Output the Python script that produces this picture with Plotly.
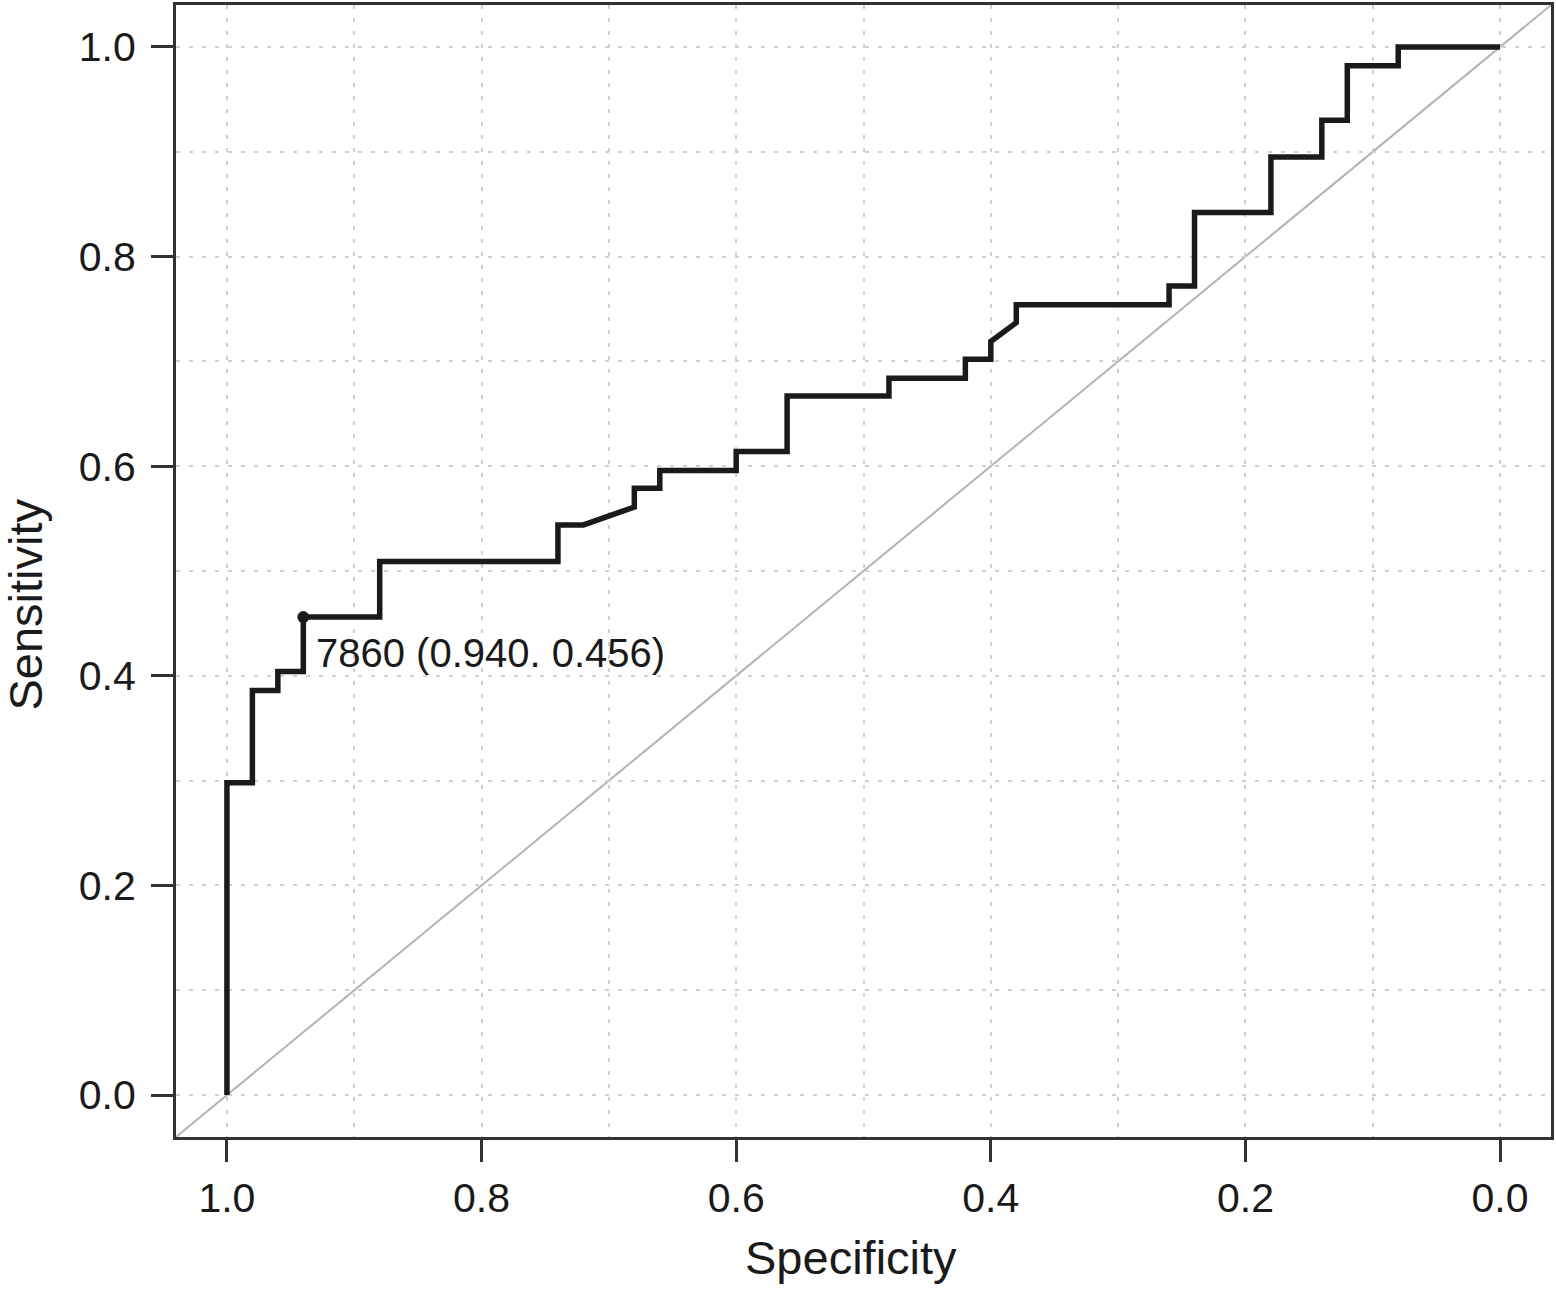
import plotly.graph_objects as go

# ROC curve vertices (specificity, sensitivity)
specificity = [1.00, 1.00, 0.98, 0.98, 0.96, 0.96, 0.94, 0.94, 0.88, 0.88,
               0.74, 0.74, 0.72, 0.68, 0.68, 0.66, 0.66, 0.60, 0.60, 0.56,
               0.56, 0.48, 0.48, 0.42, 0.42, 0.40, 0.40, 0.38, 0.38, 0.26,
               0.26, 0.24, 0.24, 0.18, 0.18, 0.14, 0.14, 0.12, 0.12, 0.08,
               0.08, 0.00]
sensitivity = [0.000, 0.298, 0.298, 0.386, 0.386, 0.404, 0.404, 0.456, 0.456, 0.509,
               0.509, 0.544, 0.544, 0.561, 0.579, 0.579, 0.596, 0.596, 0.614, 0.614,
               0.667, 0.667, 0.684, 0.684, 0.702, 0.702, 0.719, 0.737, 0.754, 0.754,
               0.772, 0.772, 0.842, 0.842, 0.895, 0.895, 0.930, 0.930, 0.982, 0.982,
               1.000, 1.000]

# best threshold
thr_value = 7860
thr_spec = 0.940
thr_sens = 0.456

tick_vals = [0.0, 0.2, 0.4, 0.6, 0.8, 1.0]
tick_text = ["0.0", "0.2", "0.4", "0.6", "0.8", "1.0"]

FONT = "Liberation Sans, Arial, Helvetica, sans-serif"
TXT = "#1a1a1a"

fig = go.Figure()

fig.add_trace(go.Scatter(
    x=specificity, y=sensitivity, mode="lines",
    line=dict(color="#1a1a1a", width=5.5),
    showlegend=False, hoverinfo="skip"))

fig.add_trace(go.Scatter(
    x=[thr_spec], y=[thr_sens], mode="markers",
    marker=dict(color="#1a1a1a", size=12),
    showlegend=False, hoverinfo="skip"))

# chance diagonal across the plot region
fig.add_shape(type="line", xref="paper", yref="paper", x0=0, y0=0, x1=1, y1=1,
              line=dict(color="#b3b3b3", width=2), layer="below")

fig.add_annotation(
    x=thr_spec, y=thr_sens, xref="x", yref="y",
    text=f"{thr_value} ({thr_spec:.3f}. {thr_sens:.3f})",
    showarrow=False, xanchor="left", yanchor="top", xshift=11, yshift=-12,
    font=dict(family=FONT, size=40, color=TXT))

fig.add_annotation(
    x=0.491, y=-0.1066, xref="paper", yref="paper", text="Specificity",
    showarrow=False, xanchor="center", yanchor="middle",
    font=dict(family=FONT, size=47, color=TXT))
fig.add_annotation(
    x=-0.1097, y=0.4705, xref="paper", yref="paper", text="Sensitivity",
    showarrow=False, xanchor="center", yanchor="middle", textangle=-90,
    font=dict(family=FONT, size=47, color=TXT))

axis_common = dict(
    tickvals=tick_vals, ticktext=tick_text,
    ticks="outside", ticklen=22, tickwidth=3, tickcolor="#333333",
    showline=True, linecolor="#333333", linewidth=3, mirror=True,
    showgrid=True, gridcolor="#d0d0d0", gridwidth=2, griddash="4px,9px",
    minor=dict(dtick=0.1, tick0=0, showgrid=True, gridcolor="#d0d0d0",
               gridwidth=2, griddash="4px,9px", ticks=""),
    zeroline=False,
    tickfont=dict(family=FONT, size=41, color=TXT),
)

fig.update_xaxes(range=[1.04, -0.04], ticklabelstandoff=1, **axis_common)
fig.update_yaxes(range=[-0.04, 1.04], ticklabelstandoff=7, **axis_common)

fig.update_layout(
    width=1556, height=1289,
    margin=dict(l=176, r=3, t=2, b=152),
    paper_bgcolor="white", plot_bgcolor="white",
    showlegend=False,
)

fig.write_html(
    "out.html",
    config={"displayModeBar": False},
    post_script="document.body.style.margin='0';document.body.style.overflow='hidden';",
)
